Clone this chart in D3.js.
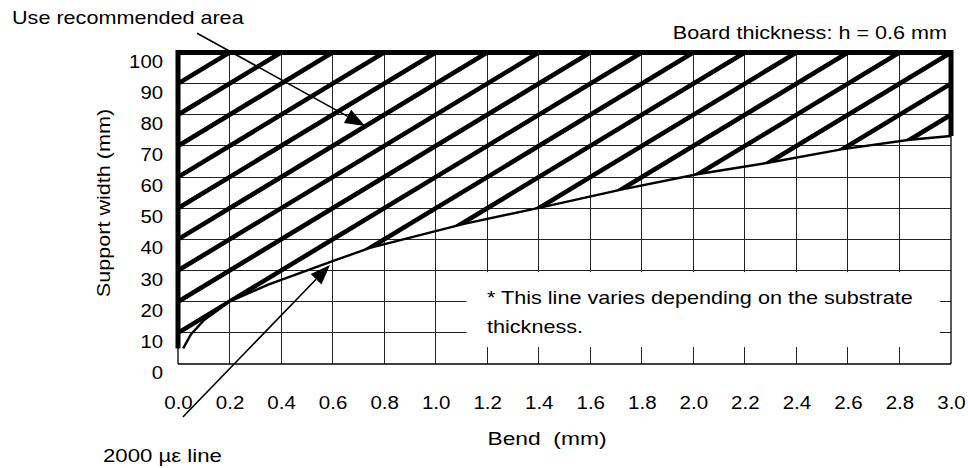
<!DOCTYPE html>
<html><head><meta charset="utf-8">
<script src="https://cdn.jsdelivr.net/npm/d3@7"></script>
<style>
html,body{margin:0;padding:0;background:#fff;}
svg{display:block;font-family:"Liberation Sans",Arial,sans-serif;}
text{white-space:pre;fill:#000;}
</style></head><body>
<svg id="chart" width="968" height="468"></svg>
<script>
// ---- data ----
const bendTicks = [0.0, 0.2, 0.4, 0.6, 0.8, 1.0, 1.2, 1.4, 1.6, 1.8, 2.0, 2.2, 2.4, 2.6, 2.8, 3.0];
const widthTicks = [0, 10, 20, 30, 40, 50, 60, 70, 80, 90, 100];
// 2000 µε line (bend mm, support width mm)
const curveBend  = [0.02, 0.05, 0.10, 0.20, 0.35, 0.60, 0.745, 1.11, 1.41, 1.72, 2.02, 2.29, 2.58, 2.84, 3.00];
const curveWidth = [5.0,  9.5,  14.0, 20.0, 25.5, 33.0, 37.3,  45.0, 50.3, 56.0, 61.0, 64.6, 69.0, 72.0, 73.2];
// hatch lines: width = intercept + slope * bend
const hatchIntercepts = [90, 80, 70, 60, 50, 40, 30, 20, 10, 0, -10, -20, -30, -40, -50, -60, -70];
const hatchSlope = 50;
const titleText = "Board thickness: h = 0.6 mm";
const xTitle = "Bend  (mm)";
const yTitle = "Support width (mm)";
const noteLines = ["* This line varies depending on the substrate", "thickness."];
const areaLabel = "Use recommended area";
const curveLabel = "2000 \u00b5\u03b5 line";

// ---- setup ----
const svg = d3.select("#chart");
const x = d3.scaleLinear().domain([0, 3]).range([178, 951]);
const y = d3.scaleLinear().domain([0, 100]).range([364, 52.5]);
const SX = 1.2; // horizontal glyph stretch of the original font

svg.append("rect").attr("width", 968).attr("height", 468).attr("fill", "#fff");

// gridlines
const grid = svg.append("g").attr("stroke", "#222").attr("stroke-width", 1).attr("shape-rendering", "crispEdges");
grid.selectAll("line.v").data(bendTicks.filter(d => d > 0 && d < 3)).join("line")
  .attr("x1", d => x(d)).attr("x2", d => x(d)).attr("y1", y(100)).attr("y2", y(0));
grid.selectAll("line.h").data(widthTicks.filter(d => d > 0 && d < 100)).join("line")
  .attr("x1", x(0)).attr("x2", x(3)).attr("y1", d => y(d)).attr("y2", d => y(d));

// note box (white, covers gridlines)
svg.append("rect")
  .attr("x", x(1.12)).attr("y", y(29.5))
  .attr("width", x(2.957) - x(1.12)).attr("height", y(5.45) - y(29.5))
  .attr("fill", "#fff");

// clip region above the curve
const clipPts = [[0, 100], [0, curveWidth[0]]]
  .concat(curveBend.map((b, i) => [b, curveWidth[i]]))
  .concat([[3, 100]]);
svg.append("clipPath").attr("id", "area").append("polygon")
  .attr("points", clipPts.map(p => [x(p[0]), y(p[1])].join(",")).join(" "));

svg.append("g").attr("clip-path", "url(#area)")
  .selectAll("line").data(hatchIntercepts).join("line")
  .attr("x1", x(0)).attr("y1", d => y(d))
  .attr("x2", x(3)).attr("y2", d => y(d + hatchSlope * 3))
  .attr("stroke", "#000").attr("stroke-width", 4.6);

// curve
const line = d3.line().x((d, i) => x(curveBend[i])).y((d, i) => y(curveWidth[i]));
svg.append("path").attr("d", line(curveBend)).attr("fill", "none")
  .attr("stroke", "#000").attr("stroke-width", 2.4).attr("stroke-linejoin", "miter");

// thin axes frame
const frame = svg.append("g").attr("stroke", "#000").attr("stroke-width", 1.3);
frame.append("line").attr("x1", x(0)).attr("x2", x(3)).attr("y1", y(0)).attr("y2", y(0));
frame.append("line").attr("x1", x(0)).attr("x2", x(0)).attr("y1", y(0)).attr("y2", y(100));
frame.append("line").attr("x1", x(3)).attr("x2", x(3)).attr("y1", y(0)).attr("y2", y(100));

// thick border of recommended area
const border = d3.line().x(d => x(d[0])).y(d => y(d[1]));
svg.append("path")
  .attr("d", border([[0, curveWidth[0]], [0, 100], [3, 100], [3, curveWidth[curveWidth.length - 1]]]))
  .attr("fill", "none").attr("stroke", "#000").attr("stroke-width", 5).attr("stroke-linejoin", "miter");

// arrows
function arrow(p0, p1, len, wid) {
  const x0 = x(p0[0]), y0 = y(p0[1]), x1 = x(p1[0]), y1 = y(p1[1]);
  const dx = x1 - x0, dy = y1 - y0, L = Math.hypot(dx, dy), ux = dx / L, uy = dy / L;
  const bx = x1 - ux * len, by = y1 - uy * len;
  svg.append("line").attr("x1", x0).attr("y1", y0).attr("x2", bx).attr("y2", by)
    .attr("stroke", "#000").attr("stroke-width", 1.6);
  svg.append("polygon").attr("fill", "#000").attr("points",
    [[x1, y1], [bx - uy * wid / 2, by + ux * wid / 2], [bx + uy * wid / 2, by - ux * wid / 2]].map(p => p.join(",")).join(" "));
}
arrow([0.074, 106.2], [0.726, 76.4], 20, 15);
arrow([0.019, -17.0], [0.59, 31.8], 20, 15);

// text helper
function label(px, py, str, anchor, size, rot) {
  return svg.append("text")
    .attr("transform", `translate(${px},${py})` + (rot ? ` rotate(${rot})` : "") + ` scale(${SX},1)`)
    .attr("text-anchor", anchor).attr("font-size", size).text(str);
}

// axes (tick labels via d3 axes)
const yAxis = svg.append("g").attr("transform", `translate(${x(0)},0)`)
  .call(d3.axisLeft(y).tickValues(widthTicks).tickSize(0).tickFormat(d3.format("d")));
yAxis.select(".domain").remove();
yAxis.selectAll("text").attr("x", null).attr("dy", null).attr("y", null)
  .attr("transform", `translate(-15,14.5) scale(1.13,1)`)
  .attr("text-anchor", "end").attr("font-size", 18).attr("font-family", "Liberation Sans, Arial, sans-serif").attr("fill", "#000");

const xAxis = svg.append("g").attr("transform", `translate(0,${y(0)})`)
  .call(d3.axisBottom(x).tickValues(bendTicks).tickSize(0).tickFormat(d3.format(".1f")));
xAxis.select(".domain").remove();
xAxis.selectAll("text").attr("x", null).attr("dy", null).attr("y", null)
  .attr("transform", `translate(0,45) scale(1.08,1)`)
  .attr("text-anchor", "middle").attr("font-size", 19).attr("font-family", "Liberation Sans, Arial, sans-serif").attr("fill", "#000");

// titles / annotations
label(12, 24, areaLabel, "start", 18);
label(947, 39, titleText, "end", 18);
label(547, 445, xTitle, "middle", 19);
label(110, 203, yTitle, "middle", 18, -90);
label(103, 462, curveLabel, "start", 18.5);
label(487, 304, noteLines[0], "start", 18);
label(487, 333, noteLines[1], "start", 18);
</script>
</body></html>
